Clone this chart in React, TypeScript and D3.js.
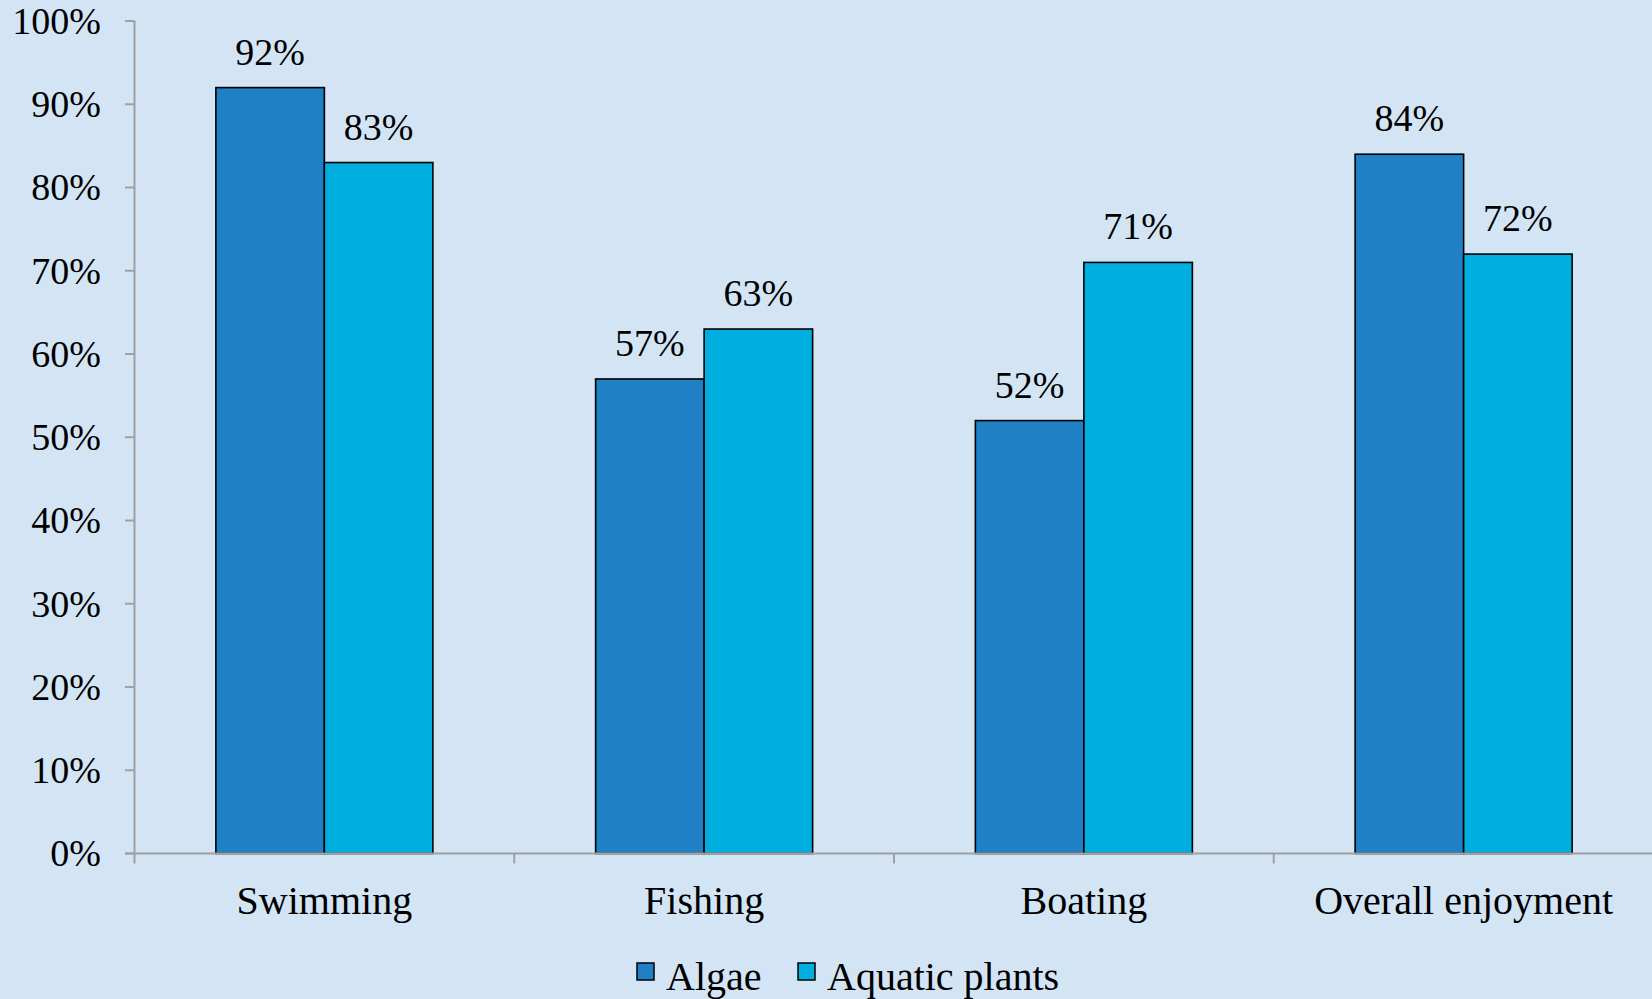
import React from "react";
import * as d3 from "d3";

const categories = ["Swimming", "Fishing", "Boating", "Overall enjoyment"];
const seriesNames = ["Algae", "Aquatic plants"];
const algae = [0.92, 0.57, 0.52, 0.84];
const aquaticPlants = [0.83, 0.63, 0.71, 0.72];
const yTicks = [0, 0.1, 0.2, 0.3, 0.4, 0.5, 0.6, 0.7, 0.8, 0.9, 1.0];
const colors = ["#1F80C6", "#00AEDF"];

const W = 1652;
const H = 999;
const FONT = "'Liberation Serif', 'Times New Roman', serif";

export default function App() {
  const seriesValues = [algae, aquaticPlants];
  const y = d3.scaleLinear().domain([0, 1]).range([853.5, 21]);
  const x = d3.scaleBand<string>().domain(categories).range([134.5, 1653.5]).padding(0);
  const xi = d3
    .scaleBand<string>()
    .domain(seriesNames)
    .range([0, x.bandwidth()])
    .paddingInner(0)
    .paddingOuter(0.75);
  const fmt = d3.format(".0%");
  const axisColor = "#A0A0A0";

  return (
    <svg
      width={W}
      height={H}
      style={{ position: "absolute", left: 0, top: 0, display: "block" }}
      fontFamily={FONT}
    >
      <rect x={0} y={0} width={W} height={H} fill="#D3E5F5" />
      {/* y axis */}
      <line x1={134.5} x2={134.5} y1={y(1)} y2={y(0)} stroke={axisColor} strokeWidth={2} />
      {yTicks.map((t) => (
        <g key={t}>
          <line x1={125} x2={134.5} y1={y(t)} y2={y(t)} stroke={axisColor} strokeWidth={2} />
          <text
            x={101}
            y={y(t)}
            dy="0.34em"
            textAnchor="end"
            fontSize={38}
            fill="#000"
          >
            {fmt(t)}
          </text>
        </g>
      ))}
      {/* bars */}
      {categories.map((c, ci) =>
        seriesNames.map((s, si) => {
          const v = seriesValues[si][ci];
          const bx = (x(c) as number) + (xi(s) as number);
          return (
            <g key={c + s}>
              <rect
                x={bx}
                y={y(v)}
                width={xi.bandwidth()}
                height={y(0) - y(v)}
                fill={colors[si]}
                stroke="#000"
                strokeWidth={1.6}
              />
              <text
                x={bx + xi.bandwidth() / 2}
                y={y(v) - 23}
                textAnchor="middle"
                fontSize={38}
                fill="#000"
              >
                {fmt(v)}
              </text>
            </g>
          );
        })
      )}
      {/* x axis */}
      <line x1={125} x2={W} y1={y(0)} y2={y(0)} stroke={axisColor} strokeWidth={2} />
      {categories.map((c) => (
        <line
          key={"t" + c}
          x1={x(c) as number}
          x2={x(c) as number}
          y1={y(0)}
          y2={y(0) + 10}
          stroke={axisColor}
          strokeWidth={2}
        />
      ))}
      {categories.map((c) => (
        <text
          key={"l" + c}
          x={(x(c) as number) + x.bandwidth() / 2}
          y={914}
          textAnchor="middle"
          fontSize={40}
          fill="#000"
        >
          {c}
        </text>
      ))}
      {/* legend */}
      {seriesNames.map((s, si) => {
        const lx = si === 0 ? 637 : 798;
        return (
          <g key={"lg" + s}>
            <rect x={lx} y={963} width={17} height={17} fill={colors[si]} stroke="#000" strokeWidth={1.5} />
            <text x={lx + 29} y={990} fontSize={40} fill="#000">
              {s}
            </text>
          </g>
        );
      })}
    </svg>
  );
}
